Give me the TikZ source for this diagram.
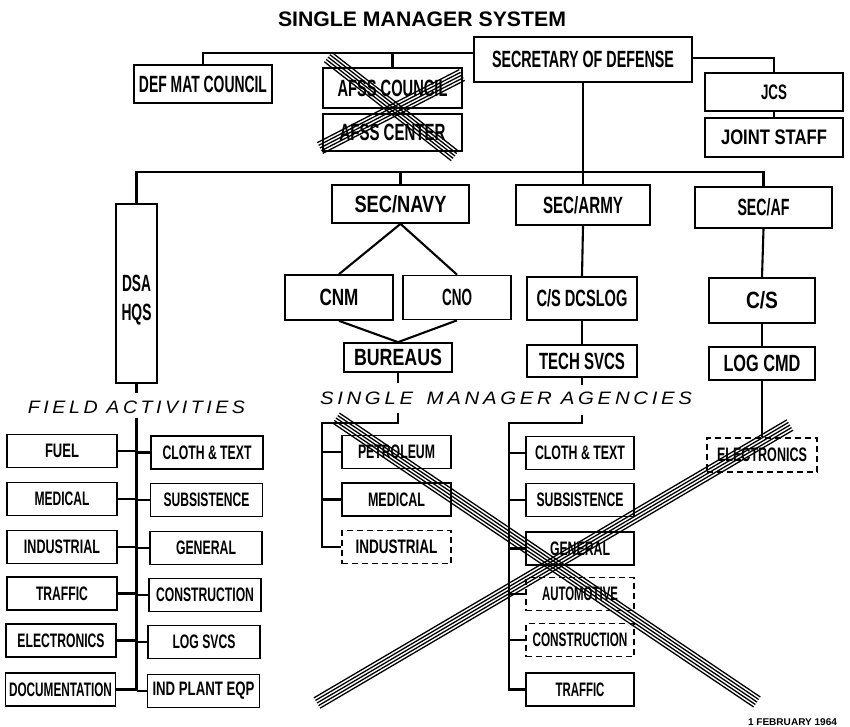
\documentclass[tikz,border=0pt]{standalone}
\usepackage{fontspec}
\setmainfont{Liberation Sans}
\newfontfamily\spacedfam[LetterSpace=18]{Liberation Sans}
\usepackage{graphicx}
\usetikzlibrary{calc}
\newcommand\fw[2]{\resizebox{#1}{\height}{#2}}
\newcommand\fbig{\fontsize{23.5}{29}\selectfont\bfseries}
\newcommand\fmid{\fontsize{21}{25}\selectfont\bfseries}
\newcommand\fsml{\fontsize{19.5}{23}\selectfont\bfseries}
\tikzset{
  bx/.style={draw, line width=1.7pt, inner sep=0pt, fill=none},
  dbx/.style={bx, dash pattern=on 6pt off 4pt},
  cn/.style={line width=2.1pt},
  bandline/.style={line width=1.3pt},
  fldbox/.style={bx, minimum width=110pt, minimum height=33pt, font=\fsml},
  fldboxr/.style={bx, minimum width=112pt, minimum height=33pt, font=\fsml},
  agbox/.style={bx, minimum width=108pt, minimum height=33pt, font=\fsml},
  agdbox/.style={dbx, minimum width=108pt, minimum height=33pt, font=\fsml},
  spaced/.style={font=\spacedfam\itshape\fontsize{18}{20}\selectfont}
}
\begin{document}
\begin{tikzpicture}[x=1pt,y=-1pt]
\fill[white] (0,0) rectangle (850,727);
\useasboundingbox (0,0) rectangle (850,727);

% title
\node[font=\fontsize{21}{25}\selectfont\bfseries] (title) at (422,19.5) {\fw{288pt}{SINGLE MANAGER SYSTEM}};

% top level
\node[bx, minimum width=218pt, minimum height=45pt, font=\fbig] (secdef) at (583,59.5) {\fw{182pt}{SECRETARY OF DEFENSE}};
\node[bx, minimum width=138pt, minimum height=38pt, font=\fbig] (defmat) at (203,84) {\fw{128pt}{DEF MAT COUNCIL}};
\node[bx, minimum width=139pt, minimum height=40pt, font=\fbig] (afssc) at (392.5,88) {\fw{110pt}{AFSS COUNCIL}};
\node[bx, minimum width=139pt, minimum height=37pt, font=\fbig] (afsse) at (392.5,132.5) {\fw{106pt}{AFSS CENTER}};
\node[bx, minimum width=138pt, minimum height=38pt, font=\fmid] (jcs) at (774,92) {\fw{26pt}{JCS}};
\node[bx, minimum width=138pt, minimum height=39pt, font=\fmid] (jstaff) at (774,137.5) {\fw{106pt}{JOINT STAFF}};

% second level
\node[bx, minimum width=41pt, minimum height=179pt, font=\fbig, align=center, text height=54pt, text depth=0pt] (dsa) at (136.5,293.5) {\fw{29pt}{DSA}\\\fw{30pt}{HQS}};
\node[bx, minimum width=137pt, minimum height=38pt, font=\fbig] (secnavy) at (400.5,204) {\fw{92pt}{SEC/NAVY}};
\node[bx, minimum width=134pt, minimum height=40pt, font=\fbig] (secarmy) at (583,205) {\fw{80pt}{SEC/ARMY}};
\node[bx, minimum width=137pt, minimum height=41pt, font=\fbig] (secaf) at (763.5,207.5) {\fw{52pt}{SEC/AF}};

\node[bx, minimum width=108pt, minimum height=45pt, font=\fbig] (cnm) at (339,297.5) {\fw{39pt}{CNM}};
\node[bx, minimum width=108pt, minimum height=44pt, font=\fbig] (cno) at (457,297.5) {\fw{30pt}{CNO}};
\node[bx, minimum width=110pt, minimum height=43pt, font=\fbig] (csdcs) at (582,298.5) {\fw{91pt}{C/S DCSLOG}};
\node[bx, minimum width=106pt, minimum height=45pt, font=\fbig] (cs) at (762,300.5) {\fw{32pt}{C/S}};

\node[bx, minimum width=108pt, minimum height=29pt, font=\fbig] (bureaus) at (398,357.5) {\fw{88pt}{BUREAUS}};
\node[bx, minimum width=110pt, minimum height=32pt, font=\fbig] (techsvcs) at (582,361) {\fw{86pt}{TECH SVCS}};
\node[bx, minimum width=106pt, minimum height=33pt, font=\fbig] (logcmd) at (762,363.5) {\fw{77pt}{LOG CMD}};

% section labels
\node[spaced] (falabel) at (136.5,407) {\fw{217pt}{FIELD\hspace{8pt}ACTIVITIES}};
\node[spaced] (smalabel) at (506,398) {\fw{372pt}{SINGLE\hspace{12pt}MANAGER\hspace{8pt}AGENCIES}};

% field activities
\node[fldbox] (ffuel) at (62,451) {\fw{34pt}{FUEL}};
\node[fldbox] (fmed) at (62,499) {\fw{55pt}{MEDICAL}};
\node[fldbox] (find) at (62,547) {\fw{76pt}{INDUSTRIAL}};
\node[fldbox] (ftraf) at (62,593.5) {\fw{52pt}{TRAFFIC}};
\node[fldbox] (felec) at (61,640.5) {\fw{87pt}{ELECTRONICS}};
\node[fldbox] (fdoc) at (60.5,689.5) {\fw{103pt}{DOCUMENTATION}};
\node[fldboxr] (fcloth) at (207,452.5) {\fw{89pt}{CLOTH \& TEXT}};
\node[fldboxr] (fsub) at (206.5,500) {\fw{86pt}{SUBSISTENCE}};
\node[fldboxr] (fgen) at (206,548) {\fw{60pt}{GENERAL}};
\node[fldboxr] (fcons) at (205,595) {\fw{98pt}{CONSTRUCTION}};
\node[fldboxr] (flog) at (204,642) {\fw{63pt}{LOG SVCS}};
\node[fldboxr] (fipe) at (203.5,691) {\fw{102pt}{IND PLANT EQP}};

% navy agencies
\node[agbox, minimum width=109pt] (npet) at (396.5,452) {\fw{77pt}{PETROLEUM}};
\node[agbox, minimum width=109pt] (nmed) at (396.5,499.5) {\fw{57pt}{MEDICAL}};
\node[agdbox, minimum width=109pt] (nind) at (396.5,547) {\fw{82pt}{INDUSTRIAL}};

% army agencies
\node[agbox] (acloth) at (580,453) {\fw{90pt}{CLOTH \& TEXT}};
\node[agbox] (asub) at (580,500) {\fw{87pt}{SUBSISTENCE}};
\node[agbox] (agen) at (580,548.5) {\fw{60pt}{GENERAL}};
\node[agdbox] (aauto) at (580,594) {\fw{76pt}{AUTOMOTIVE}};
\node[agdbox] (acons) at (580,640) {\fw{95pt}{CONSTRUCTION}};
\node[agbox] (atraf) at (580,689.5) {\fw{49pt}{TRAFFIC}};

% air force agency
\node[dbx, minimum width=110pt, minimum height=34pt, font=\fsml] (afelec) at (762,455) {\fw{90pt}{ELECTRONICS}};

% date
\node[font=\fontsize{9.8}{12}\selectfont\bfseries] (date) at (792.5,722) {\fw{89pt}{1 FEBRUARY 1964}};

% ---------- connectors ----------
\coordinate (tl) at ([yshift=6.5pt]secdef.west);
\coordinate (tr) at ([yshift=1.5pt]secdef.east);
\draw[cn] (tl) -| (defmat.north);
\draw[cn] (afssc.north) -- (afssc.north |- tl);
\draw[cn] (tr) -| (jcs.north);
\draw[cn] (jcs.south) -- (jstaff.north);

\coordinate (bus) at (583,172);
\draw[cn] (secdef.south) -- (secdef.south |- bus);
\draw[cn] (dsa.north) -- (dsa.north |- bus) -- (secaf.north |- bus) -- (secaf.north);
\draw[cn] (secnavy.north) -- (secnavy.north |- bus);
\draw[cn] (secarmy.north) -- (secarmy.north |- bus);

\draw[cn] (cnm.north) -- (secnavy.south) -- (cno.north);
\draw[cn] (cnm.south) -- (bureaus.north) -- (cno.south);
\draw[cn] (secarmy.south) -- (csdcs.north);
\draw[cn] (csdcs.south) -- (techsvcs.north);
\draw[cn] (secaf.south) -- (cs.north);
\draw[cn] (cs.south) -- (logcmd.north);
\draw[cn] (logcmd.south) -- (afelec.north);

% field activities trunk
\coordinate (fa1) at (136.5,393);
\coordinate (fa2) at (136.5,418);
\draw[cn] (dsa.south) -- (fa1);
\draw[cn] (fa2) -- (fa2 |- fdoc.east);
\foreach \n in {ffuel,fmed,find,ftraf,felec,fdoc} \draw[cn] (\n.east) -- (\n.east -| fa2);
\foreach \n in {fcloth,fsub,fgen,fcons,flog,fipe} \draw[cn] (\n.west) -- (\n.west -| fa2);

% navy agencies trunk
\coordinate (nb1) at (398,383);
\coordinate (nb2) at (398,413);
\coordinate (nb3) at (398,423);
\coordinate (nl) at (322,423);
\draw[cn] (bureaus.south) -- (nb1);
\draw[cn] (nb2) -- (nb3) -- (nl) |- (nind.west);
\foreach \n in {npet,nmed} \draw[cn] (\n.west) -- (\n.west -| nl);

% army agencies trunk
\coordinate (ab1) at (582,385);
\coordinate (ab2) at (582,415);
\coordinate (ab3) at (582,423);
\coordinate (al) at (509,423);
\draw[cn] (techsvcs.south) -- (ab1);
\draw[cn] (ab2) -- (ab3) -- (al) |- (atraf.west);
\foreach \n in {acloth,asub,agen,aauto,acons} \draw[cn] (\n.west) -- (\n.west -| al);

% ---------- cross-outs ----------
\coordinate (xa1) at (328,57);  \coordinate (xa2) at (455,156);
\coordinate (xb1) at (320,148); \coordinate (xb2) at (462,75);
\coordinate (xc1) at (336,418); \coordinate (xc2) at (757,702);
\coordinate (xd1) at (317,703); \coordinate (xd2) at (790,425);
\foreach \o in {-6pt,-3pt,0pt,3pt,6pt}{
  \draw[bandline] ($(xa1)!\o!90:(xa2)$) -- ($(xa2)!\o!-90:(xa1)$);
  \draw[bandline] ($(xb1)!\o!90:(xb2)$) -- ($(xb2)!\o!-90:(xb1)$);
  \draw[bandline] ($(xc1)!\o!90:(xc2)$) -- ($(xc2)!\o!-90:(xc1)$);
  \draw[bandline] ($(xd1)!\o!90:(xd2)$) -- ($(xd2)!\o!-90:(xd1)$);
}
\end{tikzpicture}
\end{document}
